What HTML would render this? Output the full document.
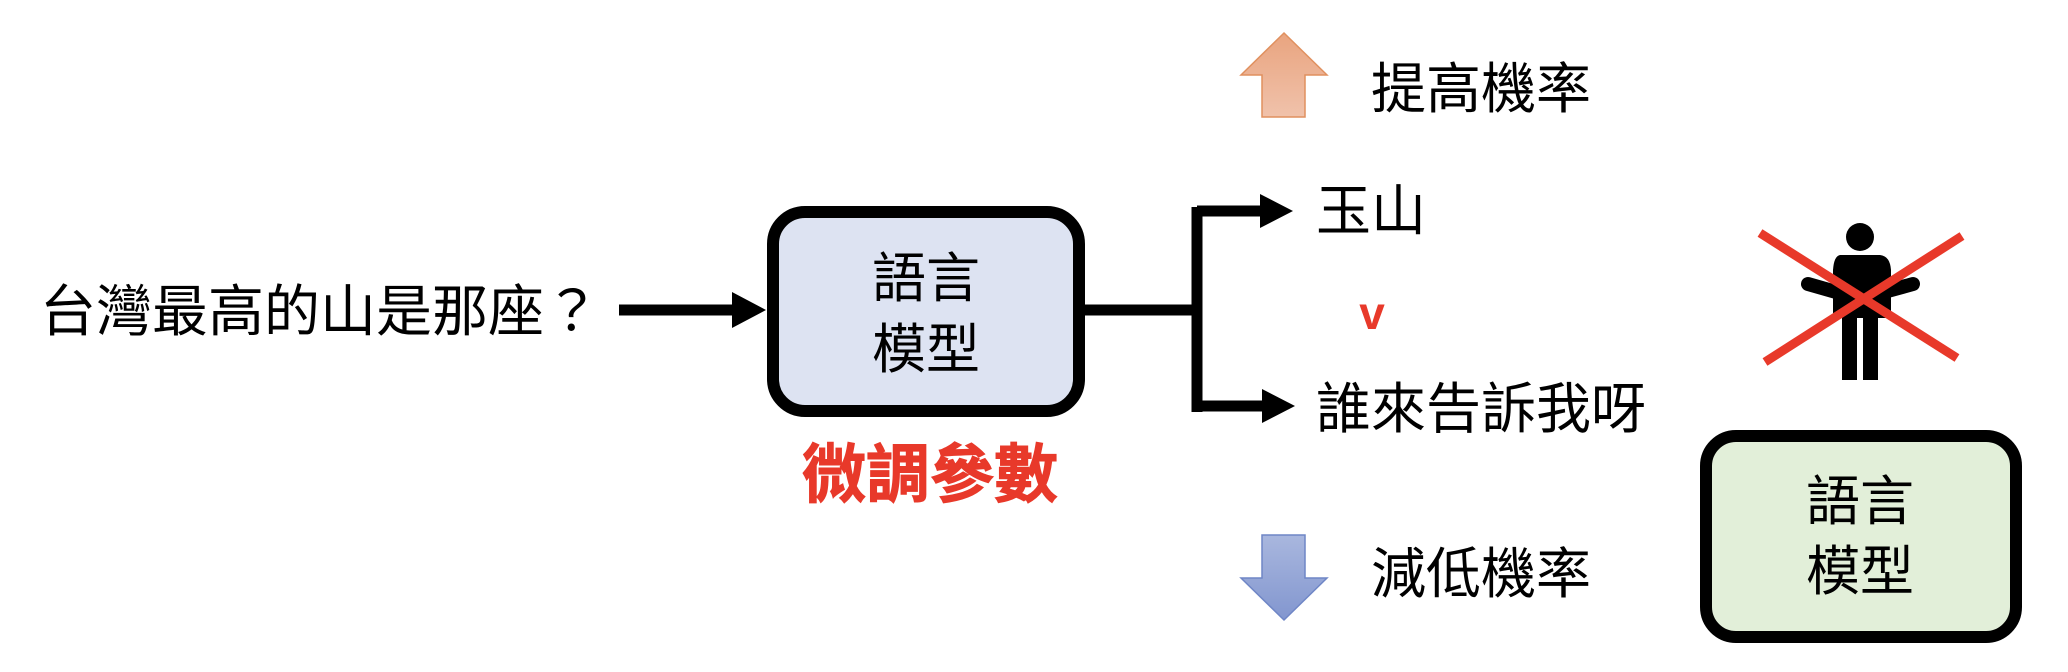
<!DOCTYPE html>
<html><head><meta charset="utf-8"><style>
html,body{margin:0;padding:0;background:#fff;}
svg{display:block;}
text{font-family:"Liberation Sans","Noto Sans CJK TC",sans-serif;}
</style></head><body>
<svg width="2068" height="672" viewBox="0 0 2068 672" xmlns="http://www.w3.org/2000/svg">
<defs>
<linearGradient id="og" x1="0" y1="0" x2="0" y2="1"><stop offset="0" stop-color="#e9a47f"/><stop offset="1" stop-color="#f0c2ab"/></linearGradient>
<linearGradient id="bg" x1="0" y1="0" x2="0" y2="1"><stop offset="0" stop-color="#a9b7de"/><stop offset="1" stop-color="#8296cf"/></linearGradient>
</defs>
<text x="40" y="331" font-size="56" fill="#000">台灣最高的山是那座？</text>
<line x1="619" y1="310" x2="735" y2="310" stroke="#000" stroke-width="11"/>
<polygon points="732,292 766,310 732,328" fill="#000"/>
<rect x="773" y="212" width="306" height="199" rx="32" fill="#dde3f2" stroke="#000" stroke-width="12"/>
<text x="926" y="297" font-size="54" text-anchor="middle">語言</text>
<text x="926" y="368" font-size="54" text-anchor="middle">模型</text>
<text x="930" y="497" font-size="64" font-weight="bold" fill="#e8392a" text-anchor="middle" stroke="#e8392a" stroke-width="1">微調參數</text>
<line x1="1084" y1="310" x2="1197" y2="310" stroke="#000" stroke-width="11"/>
<line x1="1197" y1="207" x2="1197" y2="412" stroke="#000" stroke-width="11"/>
<line x1="1197" y1="211" x2="1264" y2="211" stroke="#000" stroke-width="11"/>
<polygon points="1260,194 1293,211 1260,228" fill="#000"/>
<line x1="1200" y1="406" x2="1266" y2="406" stroke="#000" stroke-width="11"/>
<polygon points="1262,389 1295,406 1262,423" fill="#000"/>
<text x="1316" y="230" font-size="55">玉山</text>
<text x="1316" y="428" font-size="55">誰來告訴我呀</text>
<text x="1372" y="329" font-size="46" font-weight="bold" fill="#e8392a" text-anchor="middle">v</text>
<polygon points="1284,33 1327,75 1305,75 1305,117 1262,117 1262,75 1241,75" fill="url(#og)" stroke="#e0905f" stroke-width="1.5"/>
<text x="1371" y="108" font-size="55">提高機率</text>
<polygon points="1262,535 1305,535 1305,578 1327,578 1284,620 1241,578 1262,578" fill="url(#bg)" stroke="#6f86c6" stroke-width="1.5"/>
<text x="1371" y="593" font-size="55">減低機率</text>
<circle cx="1860" cy="237" r="14" fill="#000"/>
<path d="M1840,255 L1880,255 Q1890,256 1891,270 L1891,318 L1833,318 L1833,270 Q1834,256 1840,255 Z" fill="#000"/>
<rect x="1842" y="310" width="15" height="70" fill="#000"/>
<rect x="1863" y="310" width="15" height="70" fill="#000"/>
<line x1="1808" y1="284" x2="1836" y2="292" stroke="#000" stroke-width="14" stroke-linecap="round"/>
<line x1="1884" y1="292" x2="1913" y2="284" stroke="#000" stroke-width="14" stroke-linecap="round"/>
<line x1="1760" y1="233" x2="1957" y2="358" stroke="#e8392a" stroke-width="9"/>
<line x1="1765" y1="362" x2="1962" y2="236" stroke="#e8392a" stroke-width="9"/>
<rect x="1706" y="436" width="310" height="201" rx="30" fill="#e2efd9" stroke="#000" stroke-width="12"/>
<text x="1860" y="520" font-size="54" text-anchor="middle">語言</text>
<text x="1860" y="590" font-size="54" text-anchor="middle">模型</text>
</svg>
</body></html>
